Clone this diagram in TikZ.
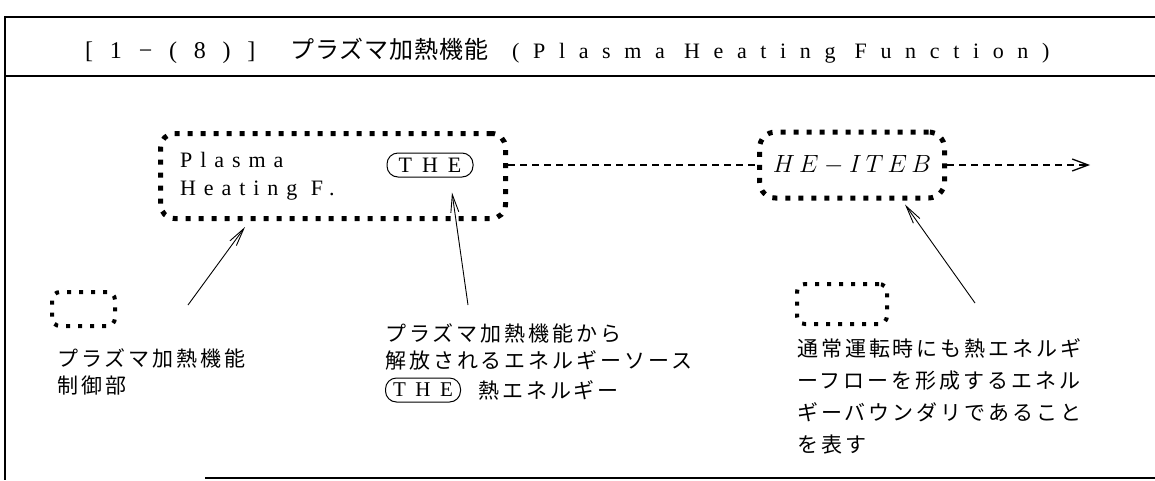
\documentclass[tikz,border=0pt]{standalone}
\usepackage{fontspec}
\setmainfont{Liberation Serif}
\newfontfamily\latsp[LetterSpace=36]{Liberation Serif}
\newfontfamily\ttlsp[LetterSpace=62]{Liberation Serif}
\newfontfamily\numsp[LetterSpace=70]{Liberation Serif}
\newfontfamily\theSp[LetterSpace=45]{Liberation Serif}
\newfontfamily\jpf[LetterSpace=14]{Noto Sans CJK JP}
\newfontfamily\jpt[LetterSpace=4]{Noto Sans CJK JP}
\usetikzlibrary{arrows.meta}
\tikzset{
  frame/.style={line width=2pt},
  dotbox/.style={draw, line width=5pt, dash pattern=on 5pt off 8pt, rounded corners=14pt, inner sep=0},
  smallbox/.style={draw, line width=4pt, dash pattern=on 4pt off 8pt, rounded corners=8pt, inner sep=0},
  flow/.style={line width=1.3pt, dash pattern=on 7pt off 5pt},
  pointer/.style={line width=0.9pt, -{Straight Barb[length=18pt,width=8pt]}},
  jtext/.style={inner sep=0, anchor=base west, font=\jpf\fontsize{21}{21}\selectfont},
  stadium/.style={draw, line width=1pt, rounded corners=11pt, minimum height=24pt, inner sep=0},
}
\begin{document}
\begin{tikzpicture}[x=1pt,y=-1pt]
\useasboundingbox (0,0) rectangle (1155,480);
% frame
\draw[frame] (1155,17) -- (5,17) -- (5,480);
\draw[frame] (5,76) -- (1155,76);
\draw[frame] (205,478) -- (1155,478);
% title
\node[anchor=base west, inner sep=0, font=\numsp\fontsize{24}{24}\selectfont] (tnum) at (85,58) {[1−(8)]};
\node[anchor=base west, inner sep=0, font=\jpt\fontsize{24}{24}\selectfont] (tjp) at (290,58) {プラズマ加熱機能};
\node[anchor=base west, inner sep=0, font=\ttlsp\fontsize{22}{22}\selectfont] (ten) at (512,58) {(Plasma Heating Function)};
% main box
\node[dotbox, minimum width=345pt, minimum height=85pt, anchor=north west] (pf) at (158,131) {};
\node[anchor=base west, inner sep=0, font=\latsp\fontsize{22}{22}\selectfont] (pl1) at (180,167) {Plasma};
\node[anchor=base west, inner sep=0, font=\latsp\fontsize{22}{22}\selectfont] (pl2) at (180,195) {Heating F.};
\node[stadium, minimum width=86pt, font=\theSp\fontsize{22}{22}\selectfont] (the) at (430,165) {THE};
% HE-ITEB box
\node[dotbox, minimum width=185pt, minimum height=66pt, rounded corners=16pt] (he) at (852,165) {\fontsize{26}{26}\selectfont$H\,E-I\,T\,E\,B$};
% flows
\coordinate (out) at (1090,165);
\draw[flow] (pf.east |- he.west) -- (he.west);
\draw[flow, -{Straight Barb[length=16pt,width=12pt,line width=1.3pt]}] (he.east) -- (out);
% pointers
\coordinate (p1) at (188,305);
\coordinate (p2) at (468,305);
\coordinate (p3) at (975,303);
\draw[pointer] (p1) -- ([xshift=-88pt,yshift=-6pt]pf.south);
\draw[pointer] (p2) -- ([xshift=22pt,yshift=-15pt]the.south);
\draw[pointer] (p3) -- ([xshift=53pt,yshift=-4pt]he.south);
% legend 1
\node[smallbox, minimum width=63pt, minimum height=34pt, anchor=north west] (sb1) at (50,290) {};
\node[jtext] (lt1) at (57,366) {プラズマ加熱機能};
\node[jtext] (lt2) at (57,393) {制御部};
% legend 2
\node[jtext] (mt1) at (385,341) {プラズマ加熱機能から};
\node[jtext] (mt2) at (385,368) {解放されるエネルギーソース};
\node[stadium, minimum width=75pt, font=\theSp\fontsize{21}{21}\selectfont] (the2) at (423,390) {THE};
\node[jtext] (mt3) at (478,398) {熱エネルギー};
% legend 3
\node[smallbox, minimum width=90pt, minimum height=40pt, anchor=north west] (sb2) at (795,282) {};
\node[jtext] (rt1) at (797,356) {通常運転時にも熱エネルギ};
\node[jtext] (rt2) at (797,388) {ーフローを形成するエネル};
\node[jtext] (rt3) at (797,420) {ギーバウンダリであること};
\node[jtext] (rt4) at (797,452) {を表す};
\end{tikzpicture}
\end{document}
